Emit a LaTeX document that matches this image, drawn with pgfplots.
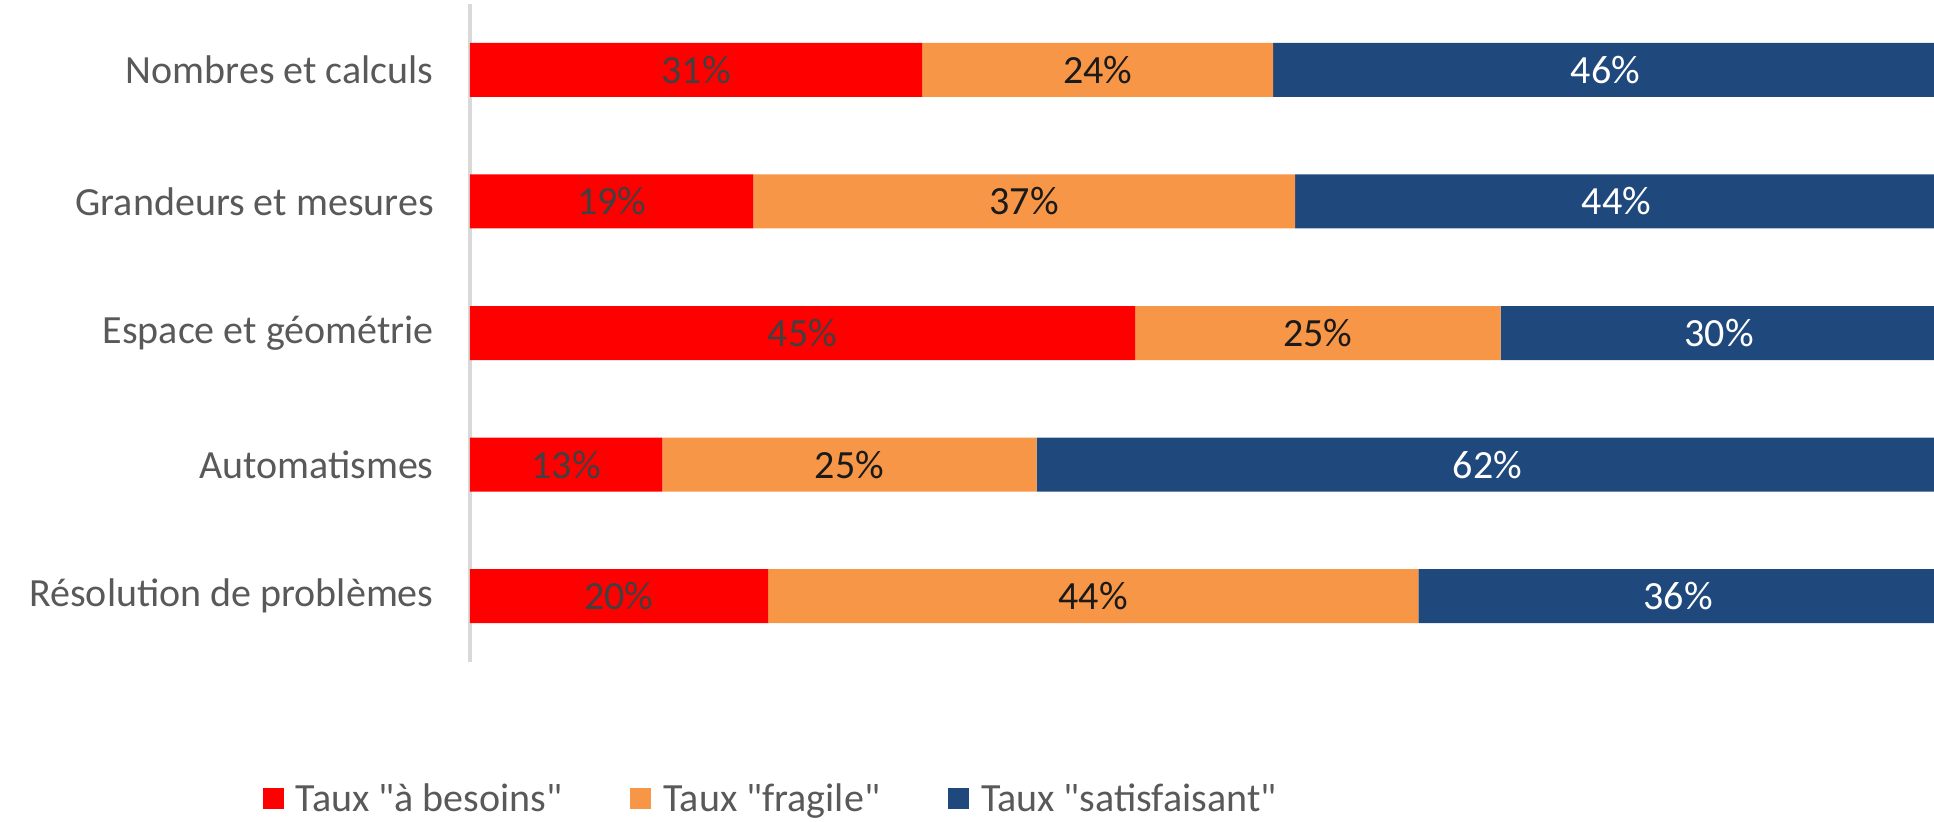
\documentclass[border=0pt]{standalone}
\usepackage{fontspec}
\setmainfont{Carlito}
\newfontfamily\cf{Carlito}
\usepackage{pgfplots}
\pgfplotsset{compat=1.18}
\definecolor{cred}{HTML}{FF0000}
\definecolor{corange}{HTML}{F79646}
\definecolor{cblue}{HTML}{1F497D}
\definecolor{txtgray}{HTML}{595959}
\definecolor{axgray}{HTML}{D9D9D9}
\definecolor{lblred}{HTML}{404040}
\definecolor{lblorange}{HTML}{1A1A1A}
\newcommand{\chartfont}{\cf\fontsize{20}{24}\selectfont}
\pgfplotsset{
  common/.style={
    scale only axis, width=734pt, height=329pt,
    at={(235pt,79.5pt)}, anchor=south west,
    xmin=0, xmax=100, ymin=-0.5, ymax=4.5, y dir=reverse,
  }
}
\begin{document}
\begin{tikzpicture}
\path[use as bounding box] (0pt,0pt) rectangle (967pt,410.5pt);
\begin{axis}[common, xbar stacked, bar width=27pt,
  axis x line=none, axis y line*=left,
  y axis line style={draw=axgray, line width=1.6pt, -},
  ytick={0,1,2,3,4},
  yticklabels={Nombres et calculs, Grandeurs et mesures, Espace et géométrie, Automatismes, Résolution de problèmes},
  major tick length=0pt,
  yticklabel style={font=\chartfont, text=txtgray, inner sep=0pt, xshift=-18pt},
  legend columns=3,
  legend style={at={(-0.1414,-0.208)}, anchor=west, draw=none, fill=none,
    font=\chartfont, text=txtgray, inner sep=0pt,
    nodes={inner sep=0pt},
    /tikz/every odd column/.append style={column sep=6pt},
    /tikz/every even column/.append style={column sep=34pt}},
  legend image code/.code={\fill[#1] (0pt,-5.25pt) rectangle (10.5pt,5.25pt);},
]
\addplot[fill=cred, draw=none] coordinates {(30.8,0) (19.3,1) (45.3,2) (13.1,3) (20.3,4)};
\addlegendentry{Taux "à besoins"}
\addplot[fill=corange, draw=none] coordinates {(23.9,0) (36.9,1) (24.9,2) (25.5,3) (44.3,4)};
\addlegendentry{Taux "fragile"}
\addplot[fill=cblue, draw=none] coordinates {(45.3,0) (43.8,1) (29.8,2) (61.4,3) (35.4,4)};
\addlegendentry{Taux "satisfaisant"}
\end{axis}
\begin{axis}[common, hide axis, clip=false,
  nodes near coords, point meta=explicit symbolic]
\addplot[draw=none, mark=none, every node near coord/.style={anchor=center, inner sep=0pt, font=\chartfont, text=lblred}]
  coordinates {(15.4,0) [31\%] (9.65,1) [19\%] (22.65,2) [45\%] (6.55,3) [13\%] (10.15,4) [20\%]};
\addplot[draw=none, mark=none, every node near coord/.style={anchor=center, inner sep=0pt, font=\chartfont, text=lblorange}]
  coordinates {(42.75,0) [24\%] (37.75,1) [37\%] (57.75,2) [25\%] (25.85,3) [25\%] (42.45,4) [44\%]};
\addplot[draw=none, mark=none, every node near coord/.style={anchor=center, inner sep=0pt, font=\chartfont, text=white}]
  coordinates {(77.35,0) [46\%] (78.1,1) [44\%] (85.1,2) [30\%] (69.3,3) [62\%] (82.3,4) [36\%]};
\end{axis}
\end{tikzpicture}
\end{document}
